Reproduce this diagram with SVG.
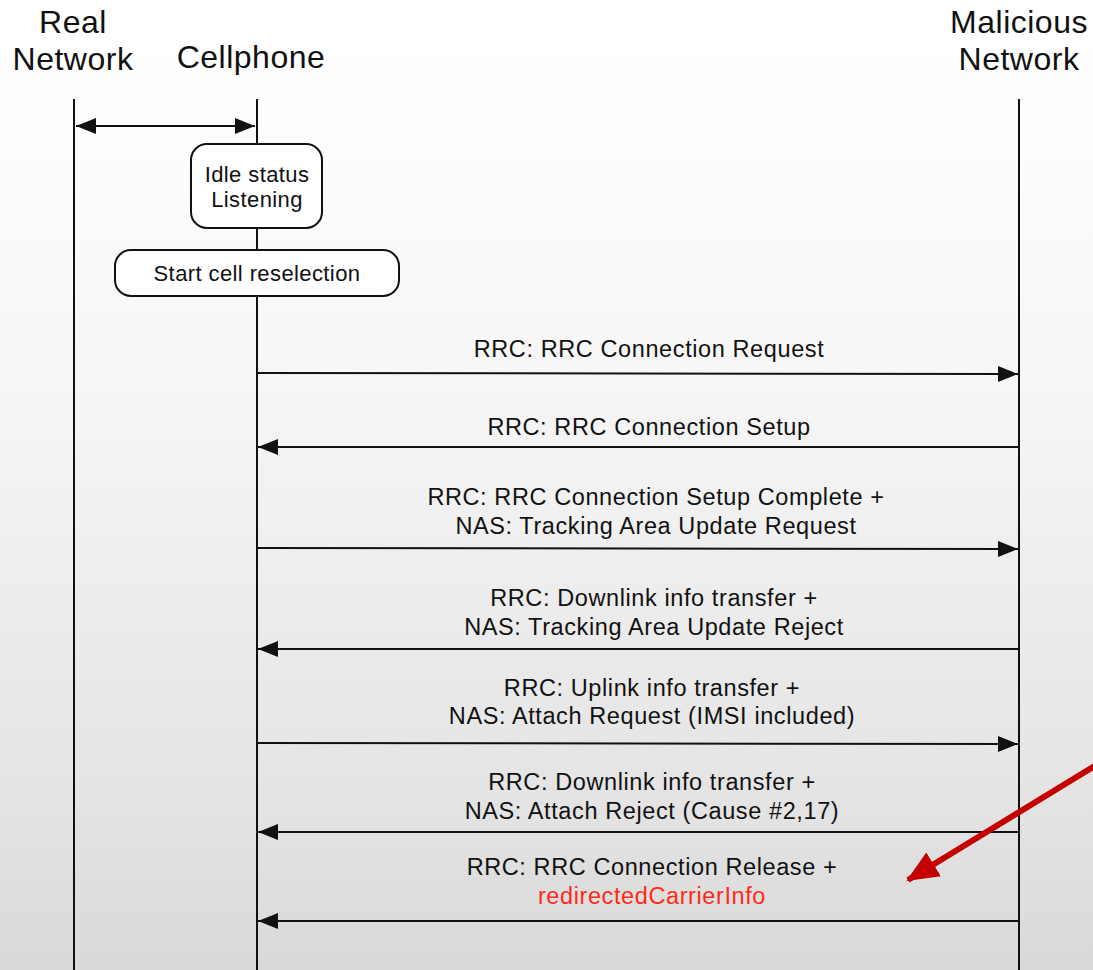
<svg xmlns="http://www.w3.org/2000/svg" width="1093" height="970" viewBox="0 0 1093 970">
  <style>
    text { font-family: "Liberation Sans", Arial, sans-serif; fill: #111; }
    .head { font-size: 32px; letter-spacing: 0.5px; text-anchor: middle; }
    .lbl { font-size: 23.5px; letter-spacing: 0.6px; text-anchor: middle; }
    .box-t { font-size: 22px; letter-spacing: 0.4px; text-anchor: middle; }
    .life { stroke: #111; stroke-width: 2; fill: none; }
    .msg { stroke: #111; stroke-width: 2; fill: none; }
    .box { fill: #fff; stroke: #111; stroke-width: 2; }
    .hl { fill: #ff2a1a; }
  </style>
  <defs>
    <linearGradient id="bg" x1="0" y1="0" x2="0" y2="1">
      <stop offset="0" stop-color="#ffffff"/>
      <stop offset="0.1" stop-color="#fefefe"/>
      <stop offset="0.4" stop-color="#f6f6f6"/>
      <stop offset="0.8" stop-color="#e5e5e5"/>
      <stop offset="1" stop-color="#d9d9d9"/>
    </linearGradient>
    <marker id="ah" viewBox="0 0 20 16" refX="20" refY="8" markerWidth="20" markerHeight="16" markerUnits="userSpaceOnUse" orient="auto-start-reverse">
      <path d="M0,0 L20,8 L0,16 Z" fill="#111"/>
    </marker>
    <marker id="ah-red" viewBox="0 0 32 28" refX="30" refY="14" markerWidth="32" markerHeight="28" markerUnits="userSpaceOnUse" orient="auto">
      <path d="M0,0 L32,14 L0,28 Z" fill="#c40000"/>
    </marker>
  </defs>

  <rect width="1093" height="970" fill="url(#bg)"/>

  <!-- participant headers -->
  <g id="real-network">
    <text class="head" x="73" y="33">Real</text>
    <text class="head" x="73" y="70">Network</text>
    <line class="life" x1="74" y1="99" x2="74" y2="970"/>
  </g>
  <g id="cellphone">
    <text class="head" x="251" y="68">Cellphone</text>
    <line class="life" x1="257" y1="99" x2="257" y2="970"/>
  </g>
  <g id="malicious-network">
    <text class="head" x="1019" y="33">Malicious</text>
    <text class="head" x="1019" y="70">Network</text>
    <line class="life" x1="1019" y1="99" x2="1019" y2="970"/>
  </g>

  <!-- state boxes on the cellphone lifeline -->
  <g id="idle-box">
    <rect class="box" x="191" y="144" width="131" height="84" rx="16"/>
    <text class="box-t" x="257" y="182">Idle status</text>
    <text class="box-t" x="257" y="207">Listening</text>
  </g>
  <g id="reselection-box">
    <rect class="box" x="115" y="250" width="284" height="46" rx="16"/>
    <text class="box-t" x="257" y="281">Start cell reselection</text>
  </g>

  <!-- messages -->
  <g id="connectors">
    <line class="msg" x1="76" y1="126" x2="255" y2="126" marker-start="url(#ah)" marker-end="url(#ah)"/>
    <line class="msg" x1="257" y1="373" x2="1018" y2="374" marker-end="url(#ah)"/>
    <line class="msg" x1="1019" y1="447" x2="258" y2="447" marker-end="url(#ah)"/>
    <line class="msg" x1="257" y1="548" x2="1018" y2="549" marker-end="url(#ah)"/>
    <line class="msg" x1="1019" y1="649" x2="258" y2="649" marker-end="url(#ah)"/>
    <line class="msg" x1="257" y1="743" x2="1018" y2="744" marker-end="url(#ah)"/>
    <line class="msg" x1="1019" y1="832" x2="258" y2="832" marker-end="url(#ah)"/>
    <line class="msg" x1="1019" y1="921" x2="258" y2="921" marker-end="url(#ah)"/>
    <!-- callout arrow -->
    <line x1="1098" y1="764" x2="908" y2="880" stroke="#c40000" stroke-width="6" marker-end="url(#ah-red)"/>
  </g>

  <!-- message labels -->
  <g id="labels">
    <text class="lbl" x="649" y="357">RRC: RRC Connection Request</text>
    <text class="lbl" x="649" y="435">RRC: RRC Connection Setup</text>
    <text class="lbl" x="656" y="505">RRC: RRC Connection Setup Complete +</text>
    <text class="lbl" x="656" y="534">NAS: Tracking Area Update Request</text>
    <text class="lbl" x="654" y="606">RRC: Downlink info transfer +</text>
    <text class="lbl" x="654" y="635">NAS: Tracking Area Update Reject</text>
    <text class="lbl" x="652" y="696">RRC: Uplink info transfer +</text>
    <text class="lbl" x="652" y="724">NAS: Attach Request (IMSI included)</text>
    <text class="lbl" x="652" y="790">RRC: Downlink info transfer +</text>
    <text class="lbl" x="652" y="819">NAS: Attach Reject (Cause #2,17)</text>
    <text class="lbl" x="652" y="875">RRC: RRC Connection Release +</text>
    <text class="lbl hl" x="652" y="904">redirectedCarrierInfo</text>
  </g>
</svg>
